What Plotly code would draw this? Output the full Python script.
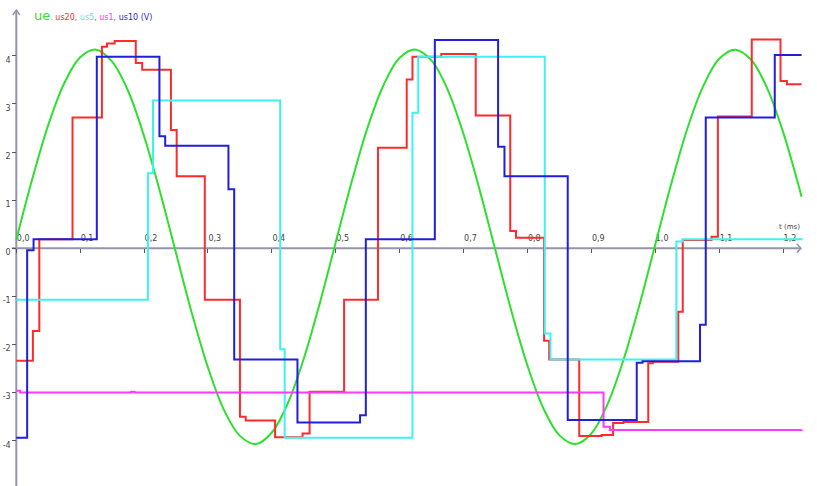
import plotly.graph_objects as go

# ---- data ----
t_ue = [0.0, 0.025, 0.05, 0.075, 0.1, 0.125, 0.15, 0.175, 0.2, 0.225,
        0.25, 0.275, 0.3, 0.325, 0.35, 0.375, 0.4, 0.425, 0.45, 0.475,
        0.5, 0.525, 0.55, 0.575, 0.6, 0.625, 0.65, 0.675, 0.7, 0.725,
        0.75, 0.775, 0.8, 0.825, 0.85, 0.875, 0.9, 0.925, 0.95, 0.975,
        1.0, 1.025, 1.05, 1.075, 1.1, 1.125, 1.15, 1.175, 1.2, 1.225, 1.229]
v_ue = [0.18, 1.44, 2.56, 3.43, 3.97, 4.13, 3.88, 3.27, 2.33, 1.17,
        -0.10, -1.36, -2.48, -3.36, -3.90, -4.07, -3.83, -3.22, -2.29, -1.14,
        0.13, 1.39, 2.52, 3.40, 3.96, 4.13, 3.90, 3.30, 2.37, 1.22,
        -0.05, -1.31, -2.44, -3.33, -3.89, -4.07, -3.85, -3.25, -2.33, -1.19,
        0.08, 1.34, 2.48, 3.37, 3.94, 4.13, 3.92, 3.33, 2.42, 1.27, 1.07]

t_us20 = [0.0, 0.026, 0.036, 0.088, 0.134, 0.142, 0.154, 0.187, 0.197, 0.242,
          0.251, 0.295, 0.350, 0.359, 0.405, 0.448, 0.459, 0.513, 0.566, 0.611,
          0.620, 0.665, 0.719, 0.773, 0.782, 0.826, 0.834, 0.881, 0.916, 0.934,
          0.950, 0.989, 0.996, 1.036, 1.043, 1.088, 1.098, 1.151, 1.196, 1.206, 1.229]
v_us20 = [-2.34, -1.72, 0.19, 2.72, 4.19, 4.26, 4.31, 3.85, 3.71, 2.46,
          1.50, -1.07, -3.50, -3.58, -3.93, -3.85, -2.98, -1.07, 2.09, 3.51,
          3.98, 4.04, 2.76, 0.36, 0.22, -1.92, -2.31, -3.90, -3.88, -3.63,
          -3.61, -2.39, -2.36, -1.32, 0.17, 0.24, 2.74, 4.34, 3.48, 3.41, 3.41]

t_us5 = [0.0, 0.206, 0.214, 0.413, 0.420, 0.620, 0.629, 0.827, 0.836, 1.033, 1.043, 1.229]
v_us5 = [-1.07, 1.56, 3.07, -2.10, -3.94, 2.82, 3.98, -1.77, -2.31, 0.14, 0.19, 0.21]

t_us1 = [0.0, 0.006, 0.180, 0.185, 0.919, 0.929, 1.229]
v_us1 = [-2.96, -3.00, -2.98, -3.00, -3.71, -3.78, -3.77]

t_us10 = [0.0, 0.017, 0.027, 0.126, 0.224, 0.233, 0.332, 0.341, 0.440, 0.538,
          0.547, 0.655, 0.754, 0.764, 0.863, 0.971, 0.980, 1.070, 1.079, 1.187, 1.229]
v_us10 = [-3.94, -0.04, 0.19, 3.98, 2.33, 2.13, 1.23, -2.31, -3.62, -3.47,
          0.19, 4.33, 2.11, 1.50, -3.57, -2.38, -2.35, -1.59, 2.72, 4.02, 4.02]

x_ticks = [0.0, 0.1, 0.2, 0.3, 0.4, 0.5, 0.6, 0.7, 0.8, 0.9, 1.0, 1.1, 1.2]
x_ticklabels = ["0,0", "0,1", "0,2", "0,3", "0,4", "0,5", "0,6",
                "0,7", "0,8", "0,9", "1,0", "1,1", "1,2"]
y_ticks = [-4, -3, -2, -1, 0, 1, 2, 3, 4]
y_ticklabels = ["-4", "-3", "-2", "-1", "0", "1", "2", "3", "4"]

# ---- styles ----
C_UE = "#2ee02e"
C_20 = "#ff2b2b"
C_5 = "#3cf2f2"
C_1 = "#ff38ff"
C_10 = "#1f1fdc"
AX = "#9494aa"

X_RANGE = [-0.0255, 1.2531]
Y_RANGE = [-4.942, 5.162]

fig = go.Figure()
fig.add_trace(go.Scatter(x=t_ue, y=v_ue, mode="lines",
                         line=dict(color=C_UE, width=2, shape="spline"), name="ue"))
fig.add_trace(go.Scatter(x=t_us20, y=v_us20, mode="lines",
                         line=dict(color=C_20, width=2, shape="hv"), name="us20"))
fig.add_trace(go.Scatter(x=t_us5, y=v_us5, mode="lines",
                         line=dict(color=C_5, width=2, shape="hv"), name="us5"))
fig.add_trace(go.Scatter(x=t_us1, y=v_us1, mode="lines",
                         line=dict(color=C_1, width=2, shape="hv"), name="us1"))
fig.add_trace(go.Scatter(x=t_us10, y=v_us10, mode="lines",
                         line=dict(color=C_10, width=2, shape="hv"), name="us10"))

x0_paper = (0 - X_RANGE[0]) / (X_RANGE[1] - X_RANGE[0])
y0_paper = (0 - Y_RANGE[0]) / (Y_RANGE[1] - Y_RANGE[0])

tickfont = dict(family="DejaVu Sans", size=8, color="#444444")

fig.update_layout(
    width=817, height=486,
    margin=dict(l=0, r=0, t=0, b=0, autoexpand=False),
    paper_bgcolor="white", plot_bgcolor="white",
    showlegend=False,
    xaxis=dict(range=X_RANGE, anchor="free", position=y0_paper,
               showgrid=False, zeroline=False, showline=False,
               tickvals=x_ticks, ticktext=x_ticklabels,
               ticks="outside", ticklen=4, tickwidth=1, tickcolor="#555566",
               ticklabelposition="inside right", ticklabeloverflow="allow",
               tickfont=tickfont, layer="below traces", automargin=False),
    yaxis=dict(range=Y_RANGE, anchor="free", position=x0_paper,
               showgrid=False, zeroline=False, showline=False,
               tickvals=y_ticks, ticktext=y_ticklabels,
               ticks="outside", ticklen=4, tickwidth=1, tickcolor="#555566",
               ticklabelposition="outside", ticklabelshift=4, ticklabelstandoff=0,
               ticklabeloverflow="allow",
               tickfont=tickfont, layer="below traces", automargin=False),
    shapes=[
        dict(type="line", xref="x", yref="y", x0=0, x1=0, y0=-4.95, y1=4.95,
             line=dict(color=AX, width=2), layer="below"),
        dict(type="line", xref="x", yref="y", x0=-0.007, x1=1.228, y0=0, y1=0,
             line=dict(color=AX, width=2), layer="below"),
        dict(type="path", xref="x", yref="y",
             path="M -0.0055,4.85 L 0,4.955 L 0.0055,4.85",
             line=dict(color=AX, width=1.5), layer="below"),
        dict(type="path", xref="x", yref="y",
             path="M 1.2215,0.09 L 1.228,0 L 1.2215,-0.09",
             line=dict(color=AX, width=1.5), layer="below"),
    ],
    annotations=[
        dict(xref="paper", yref="paper", x=32 / 817, y=1 - 16 / 486,
             xanchor="left", yanchor="middle", showarrow=False,
             font=dict(family="DejaVu Sans", size=8, color="#777777"),
             text=(f'<span style="color:{C_UE};font-size:13px">ue</span>'
                   f'<span style="color:{C_UE}">.</span> '
                   f'<span style="color:{C_20}">us20</span>, '
                   f'<span style="color:{C_5}">us5</span>, '
                   f'<span style="color:{C_1}">us1</span>, '
                   f'<span style="color:{C_10}">us10 (V)</span>')),
        dict(xref="paper", yref="paper", x=802 / 817, y=1 - 227 / 486,
             xanchor="right", yanchor="middle", showarrow=False,
             font=dict(family="DejaVu Sans", size=7, color="#444444"),
             text="t (ms)"),
    ],
)

fig.write_html("out.html", config={"displayModeBar": False},
               post_script="document.body.style.margin='0';document.body.style.overflow='hidden';")
